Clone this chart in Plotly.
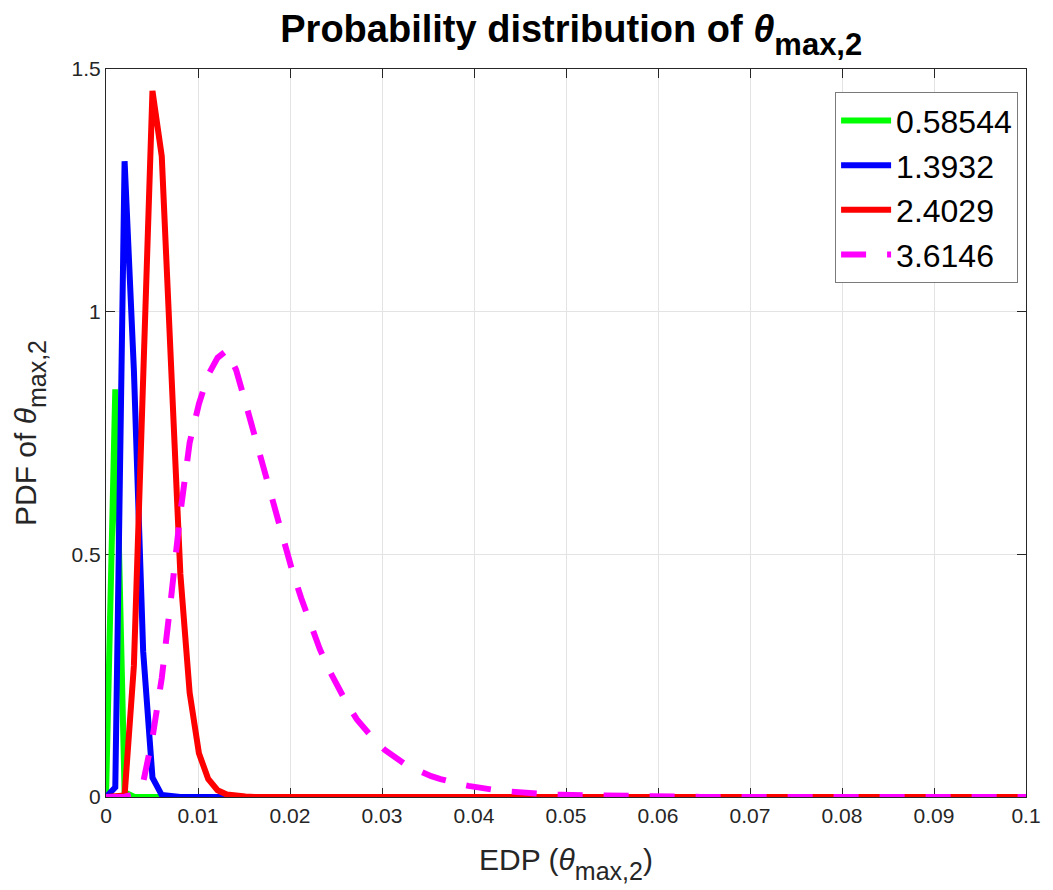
import numpy as np
import plotly.graph_objects as go

# EDP sample grid (100 points on [0, 0.1])
edp = np.linspace(0, 0.1, 100)

legend_labels = ["0.58544", "1.3932", "2.4029", "3.6146"]

pdf_058544 = [
    0.0, 0.84, 0.01, 0.0005, 0.0, 0.0, 0.0, 0.0, 0.0, 0.0,
    0.0, 0.0, 0.0, 0.0, 0.0, 0.0, 0.0, 0.0, 0.0, 0.0,
    0.0, 0.0, 0.0, 0.0, 0.0, 0.0, 0.0, 0.0, 0.0, 0.0,
    0.0, 0.0, 0.0, 0.0, 0.0, 0.0, 0.0, 0.0, 0.0, 0.0,
    0.0, 0.0, 0.0, 0.0, 0.0, 0.0, 0.0, 0.0, 0.0, 0.0,
    0.0, 0.0, 0.0, 0.0, 0.0, 0.0, 0.0, 0.0, 0.0, 0.0,
    0.0, 0.0, 0.0, 0.0, 0.0, 0.0, 0.0, 0.0, 0.0, 0.0,
    0.0, 0.0, 0.0, 0.0, 0.0, 0.0, 0.0, 0.0, 0.0, 0.0,
    0.0, 0.0, 0.0, 0.0, 0.0, 0.0, 0.0, 0.0, 0.0, 0.0,
    0.0, 0.0, 0.0, 0.0, 0.0, 0.0, 0.0, 0.0, 0.0, 0.0,
]

pdf_13932 = [
    0.0, 0.02, 1.31, 0.88, 0.30, 0.04, 0.004, 0.0005, 0.0, 0.0,
    0.0, 0.0, 0.0, 0.0, 0.0, 0.0, 0.0, 0.0, 0.0, 0.0,
    0.0, 0.0, 0.0, 0.0, 0.0, 0.0, 0.0, 0.0, 0.0, 0.0,
    0.0, 0.0, 0.0, 0.0, 0.0, 0.0, 0.0, 0.0, 0.0, 0.0,
    0.0, 0.0, 0.0, 0.0, 0.0, 0.0, 0.0, 0.0, 0.0, 0.0,
    0.0, 0.0, 0.0, 0.0, 0.0, 0.0, 0.0, 0.0, 0.0, 0.0,
    0.0, 0.0, 0.0, 0.0, 0.0, 0.0, 0.0, 0.0, 0.0, 0.0,
    0.0, 0.0, 0.0, 0.0, 0.0, 0.0, 0.0, 0.0, 0.0, 0.0,
    0.0, 0.0, 0.0, 0.0, 0.0, 0.0, 0.0, 0.0, 0.0, 0.0,
    0.0, 0.0, 0.0, 0.0, 0.0, 0.0, 0.0, 0.0, 0.0, 0.0,
]

pdf_24029 = [
    0.0, 0.0, 0.003, 0.27, 0.90, 1.455, 1.32, 0.91, 0.46, 0.215,
    0.09, 0.037, 0.014, 0.005, 0.002, 0.001, 0.0, 0.0, 0.0, 0.0,
    0.0, 0.0, 0.0, 0.0, 0.0, 0.0, 0.0, 0.0, 0.0, 0.0,
    0.0, 0.0, 0.0, 0.0, 0.0, 0.0, 0.0, 0.0, 0.0, 0.0,
    0.0, 0.0, 0.0, 0.0, 0.0, 0.0, 0.0, 0.0, 0.0, 0.0,
    0.0, 0.0, 0.0, 0.0, 0.0, 0.0, 0.0, 0.0, 0.0, 0.0,
    0.0, 0.0, 0.0, 0.0, 0.0, 0.0, 0.0, 0.0, 0.0, 0.0,
    0.0, 0.0, 0.0, 0.0, 0.0, 0.0, 0.0, 0.0, 0.0, 0.0,
    0.0, 0.0, 0.0, 0.0, 0.0, 0.0, 0.0, 0.0, 0.0, 0.0,
    0.0, 0.0, 0.0, 0.0, 0.0, 0.0, 0.0, 0.0, 0.0, 0.0,
]

pdf_36146 = [
    0.0, 0.0, 0.0005, 0.005, 0.03, 0.122, 0.245, 0.41, 0.585, 0.73,
    0.81, 0.87, 0.905, 0.92, 0.88, 0.813, 0.744, 0.675, 0.605, 0.536,
    0.469, 0.41, 0.355, 0.305, 0.262, 0.224, 0.19, 0.16, 0.136, 0.115,
    0.097, 0.082, 0.07, 0.06, 0.051, 0.043, 0.037, 0.031, 0.027, 0.023,
    0.019, 0.016, 0.014, 0.012, 0.010, 0.0085, 0.007, 0.006, 0.005, 0.0045,
    0.004, 0.0035, 0.003, 0.0025, 0.002, 0.0017, 0.0014, 0.0012, 0.001, 0.0008,
    0.0006, 0.0005, 0.0004, 0.0003, 0.0002, 0.0002, 0.0001, 0.0001, 0.0, 0.0,
    0.0, 0.0, 0.0, 0.0, 0.0, 0.0, 0.0, 0.0, 0.0, 0.0,
    0.0, 0.0, 0.0, 0.0, 0.0, 0.0, 0.0, 0.0, 0.0, 0.0,
    0.0, 0.0, 0.0, 0.0, 0.0, 0.0, 0.0, 0.0, 0.0, 0.0,
]

series = [pdf_058544, pdf_13932, pdf_24029, pdf_36146]
colors = ["#00FF00", "#0000FF", "#FF0000", "#FF00FF"]
dashes = ["solid", "solid", "solid", "25px,21px"]

FONT = "Liberation Sans, Arial, Helvetica, sans-serif"
AXIS_COLOR = "#262626"

fig = go.Figure()
for label, ys, col, dash in zip(legend_labels, series, colors, dashes):
    fig.add_trace(go.Scatter(
        x=edp, y=ys, mode="lines", name=label,
        line=dict(color=col, width=6, dash=dash),
        cliponaxis=False,
    ))


def sub(s, size):
    # lowered subscript with an explicit size
    return f"<sub><sub><span style='font-size:{size}px'>{s}</span></sub></sub>"


fig.update_layout(
    width=1053, height=890,
    margin=dict(l=106, r=16, t=69, b=93),
    paper_bgcolor="white", plot_bgcolor="white",
    font=dict(family=FONT, color=AXIS_COLOR, size=21),
    title=dict(
        text="<b>Probability distribution of <i>θ</i>" + sub("max,2", 31) + "</b>",
        x=0.5425, xanchor="center", y=0.953, yanchor="bottom",
        font=dict(size=38, color="black"),
    ),
    legend=dict(
        x=0.9914, xanchor="right", y=0.968, yanchor="top",
        bgcolor="white", bordercolor="#7a7a7a", borderwidth=1,
        font=dict(size=32, color="black"),
        itemwidth=50,
    ),
    showlegend=True,
)

axis_common = dict(
    showline=True, linecolor=AXIS_COLOR, linewidth=1, mirror="allticks",
    ticks="inside", ticklen=9, tickcolor=AXIS_COLOR, tickwidth=1,
    showgrid=True, gridcolor="#e3e3e3", gridwidth=1,
    zeroline=False, layer="below traces",
    tickfont=dict(size=21, color=AXIS_COLOR),
)

fig.update_xaxes(
    range=[0, 0.1], tickvals=[i / 100 for i in range(11)],
    ticktext=["0", "0.01", "0.02", "0.03", "0.04", "0.05", "0.06", "0.07", "0.08", "0.09", "0.1"],
    title=dict(text="EDP (<i>θ</i>" + sub("max,2", 25) + ")", font=dict(size=30, color=AXIS_COLOR), standoff=22),
    **axis_common,
)
fig.update_yaxes(
    range=[0, 1.5], tickvals=[0, 0.5, 1, 1.5], ticktext=["0", "0.5", "1", "1.5"],
    title=dict(text="PDF of <i>θ</i>" + sub("max,2", 25), font=dict(size=30, color=AXIS_COLOR), standoff=26),
    **axis_common,
)

fig.write_html("out.html")
